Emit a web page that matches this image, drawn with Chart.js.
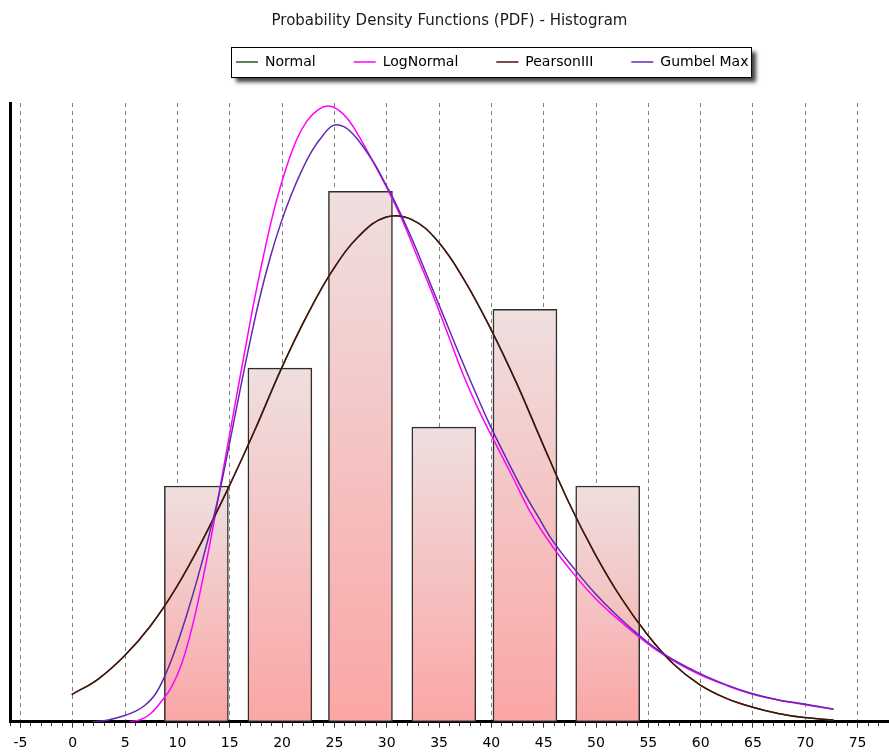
<!DOCTYPE html>
<html>
<head>
<meta charset="utf-8">
<script src="https://cdn.jsdelivr.net/npm/chart.js@4/dist/chart.umd.min.js"></script>
<style>
  html, body { margin: 0; padding: 0; background: #ffffff; }
  #wrap { width: 889px; height: 753px; position: relative; }
</style>
</head>
<body>
<div id="wrap"><canvas id="c"></canvas></div>
<script>
// ---------------- data ----------------
const chartTitle = 'Probability Density Functions (PDF) - Histogram';
const seriesNames = ['Normal', 'LogNormal', 'PearsonIII', 'Gumbel Max'];

// histogram: class centres and counts
const binCenters = [11.91, 19.89, 27.59, 35.56, 43.31, 51.22];
const binCounts  = [4, 6, 9, 5, 7, 4];

// x-axis range and tick step
const xMin = -5.9, xMax = 78.1, xMajorStep = 5, xMinorStep = 1;
const yMin = 0, yMax = 10.5;

// PDF curves, [x, y] pairs in histogram-count units
const pearsonPts = [
  [0, 0.46], [2.5, 0.72], [5, 1.11], [7.5, 1.62], [10, 2.28], [12.5, 3.08], [15, 3.98],
  [17.5, 4.95], [20, 5.98], [22.5, 6.9], [25, 7.68], [27.5, 8.25], [30, 8.56],
  [32.5, 8.52], [35, 8.15], [37.5, 7.5], [40, 6.68], [42.5, 5.75], [45, 4.72],
  [47.5, 3.72], [50, 2.85], [52.5, 2.1], [55, 1.48], [57.5, 0.98], [60, 0.63],
  [62.5, 0.4], [65, 0.25], [67.5, 0.14], [70, 0.07], [72.8, 0.03]
];
// the Normal curve lies under the PearsonIII curve in the picture
const normalPts = [
  [0, 0.46], [2.5, 0.72], [5, 1.11], [7.5, 1.62], [10, 2.28], [12.5, 3.08], [15, 3.98],
  [17.5, 4.95], [20, 5.98], [22.5, 6.9], [25, 7.68], [27.5, 8.25], [30, 8.56],
  [32.5, 8.52], [35, 8.15], [37.5, 7.5], [40, 6.68], [42.5, 5.75], [45, 4.72],
  [47.5, 3.72], [50, 2.85], [52.5, 2.1], [55, 1.48], [57.5, 0.98], [60, 0.63],
  [62.5, 0.4], [65, 0.25], [67.5, 0.14], [70, 0.07], [72.8, 0.03]
];
const logNormalPts = [
  [5.5, 0], [6.5, 0.03], [7.5, 0.13], [8.5, 0.33], [9.5, 0.58], [10.5, 0.98], [11.5, 1.6],
  [12.5, 2.4], [13.5, 3.3], [14.5, 4.3], [15.5, 5.28], [16.5, 6.25], [17.5, 7.2],
  [18.5, 8.05], [19.5, 8.8], [20.5, 9.4], [21.5, 9.88], [22.5, 10.2], [23.5, 10.38],
  [24.5, 10.45], [25.5, 10.38], [26.5, 10.2], [27.5, 9.92], [28.5, 9.6], [30, 9.1],
  [31.5, 8.55], [33, 7.9], [34.5, 7.25], [36, 6.55], [37.5, 5.85], [39, 5.25],
  [40.5, 4.72], [42, 4.2], [44, 3.5], [46, 2.96], [48, 2.5], [50, 2.1], [52, 1.77],
  [54, 1.47], [56, 1.2], [58, 0.98], [60, 0.8], [62.5, 0.62], [65, 0.47], [67.5, 0.37],
  [70, 0.29], [72.8, 0.21]
];
const gumbelPts = [
  [2, 0], [3.5, 0.03], [5, 0.1], [6, 0.17], [7, 0.28], [8, 0.47], [9, 0.82], [10, 1.28],
  [11, 1.82], [12, 2.42], [13, 3.08], [14, 3.8], [15, 4.65], [16, 5.55], [17, 6.42],
  [18, 7.22], [19, 7.9], [20, 8.47], [21, 8.95], [22, 9.36], [23, 9.7], [24, 9.95],
  [25, 10.12], [26, 10.1], [27, 9.95], [28, 9.72], [29, 9.45], [30, 9.12], [31, 8.78],
  [32.5, 8.2], [34, 7.55], [35.5, 6.9], [37, 6.25], [38.5, 5.62], [40, 5.02], [41.5, 4.48],
  [43, 3.96], [44.5, 3.5], [46, 3.06], [48, 2.6], [50, 2.18], [52, 1.82], [54, 1.5],
  [56, 1.22], [58, 1.0], [60, 0.82], [62.5, 0.63], [65, 0.48], [67.5, 0.37], [70, 0.3],
  [72.8, 0.21]
];

// ---------------- styles ----------------
const seriesColors = ['#1f5f1f', '#ff00ff', '#4d1010', '#6428b0'];
const FONT = 'DejaVu Sans';

const toXY = pts => pts.map(p => ({ x: p[0], y: p[1] }));

Chart.defaults.font.family = FONT;
Chart.defaults.color = '#000';

function barGradient(ctx) {
  const chart = ctx.chart;
  if (ctx.type !== 'data' || !chart.chartArea) return '#f6b8b8';
  const ys = chart.scales.y;
  const top = ys.getPixelForValue(ctx.parsed.y);
  const bottom = ys.getPixelForValue(0);
  const g = chart.ctx.createLinearGradient(0, top, 0, bottom);
  g.addColorStop(0, '#efdfdf');
  g.addColorStop(1, '#fba6a6');
  return g;
}

// legend position + framed box with drop shadow
const legendFrame = {
  id: 'legendFrame',
  afterLayout(chart) {
    const L = chart.legend;
    if (!L || !L.lineWidths) return;
    const pad = L.options.labels.padding;
    const fs = L.options.labels.font.size;
    const start = (L.left + pad + L.right - L.lineWidths[0]) / 2;
    const dx = 236 - start;
    const dy = 62 - (L.top + pad + fs / 2);
    L.left += dx; L.right += dx; L.top += dy; L.bottom += dy;
  },
  beforeDraw(chart) {
    const L = chart.legend;
    if (!L || !L.lineWidths) return;
    const pad = L.options.labels.padding;
    const fs = L.options.labels.font.size;
    const start = (L.left + pad + L.right - L.lineWidths[0]) / 2;
    const contentW = L.lineWidths[0] - pad;
    const cy = L.top + pad + fs / 2;
    const x = Math.round(start - 5) + 0.5, y = Math.round(cy - 15) + 0.5;
    const w = Math.round(contentW + 8), h = 30;
    const c = chart.ctx;
    c.save();
    c.shadowColor = 'rgba(0,0,0,0.75)';
    c.shadowBlur = 4;
    c.shadowOffsetX = 4;
    c.shadowOffsetY = 4;
    c.fillStyle = '#ffffff';
    c.fillRect(x, y, w, h);
    c.restore();
    c.save();
    c.strokeStyle = '#000';
    c.lineWidth = 1;
    c.strokeRect(x, y, w, h);
    c.restore();
  }
};

const lineDs = (i, pts, order) => ({
  type: 'line',
  label: seriesNames[i],
  data: toXY(pts),
  borderColor: seriesColors[i],
  backgroundColor: seriesColors[i],
  borderWidth: 1.5,
  pointRadius: 0,
  pointHoverRadius: 0,
  fill: false,
  tension: 0.4,
  order: order
});

new Chart(document.getElementById('c'), {
  type: 'bar',
  data: {
    datasets: [
      lineDs(0, normalPts, 6),
      lineDs(1, logNormalPts, 5),
      lineDs(2, pearsonPts, 4),
      lineDs(3, gumbelPts, 3),
      {
        type: 'bar',
        label: 'Histogram',
        data: binCenters.map((x, i) => ({ x: x, y: binCounts[i] })),
        backgroundColor: barGradient,
        borderColor: '#2e2e2e',
        borderWidth: 1.5,
        borderSkipped: false,
        barThickness: 64,
        order: 10
      }
    ]
  },
  options: {
    responsive: true,
    maintainAspectRatio: false,
    animation: false,
    layout: { padding: { left: 10, right: 0, top: 0, bottom: -6.5 } },
    plugins: {
      title: {
        display: true,
        text: chartTitle,
        color: '#1a1a1a',
        font: { size: 15, weight: 'normal', family: FONT },
        padding: { top: 12, bottom: 11 }
      },
      legend: {
        display: true,
        position: 'top',
        labels: {
          filter: item => item.datasetIndex < 4,
          sort: (a, b) => a.datasetIndex - b.datasetIndex,
          usePointStyle: true,
          pointStyle: 'line',
          pointStyleWidth: 22,
          padding: 38,
          color: '#000',
          font: { size: 14, family: FONT }
        }
      },
      tooltip: { enabled: false }
    },
    scales: {
      x: {
        type: 'linear',
        position: 'bottom',
        min: xMin,
        max: xMax,
        offset: false,
        afterFit: s => { s.paddingRight = 0; s.paddingLeft = 0; },
        grid: {
          display: true,
          offset: false,
          drawOnChartArea: true,
          color: c => (Math.round(c.tick.value) % xMajorStep === 0 ? '#808080' : 'rgba(0,0,0,0)'),
          lineWidth: 1,
          drawTicks: true,
          tickLength: 6,
          tickColor: '#333',
          tickWidth: 1,
          tickBorderDash: c => (Math.round(c.tick.value) % xMajorStep === 0 ? [] : [3, 20])
        },
        border: { display: true, color: '#000', width: 3, dash: [4, 4] },
        ticks: {
          stepSize: xMinorStep,
          autoSkip: false,
          includeBounds: false,
          maxRotation: 0,
          padding: 7.5,
          color: '#000',
          font: { size: 14, family: FONT },
          callback: v => (Math.round(v) % xMajorStep === 0 ? String(Math.round(v)) : '')
        }
      },
      y: {
        type: 'linear',
        position: 'left',
        min: yMin,
        max: yMax,
        grid: { display: false, drawTicks: false, drawOnChartArea: false },
        border: { display: true, color: '#000', width: 3 },
        ticks: { display: false }
      }
    }
  },
  plugins: [legendFrame]
});
</script>
</body>
</html>
